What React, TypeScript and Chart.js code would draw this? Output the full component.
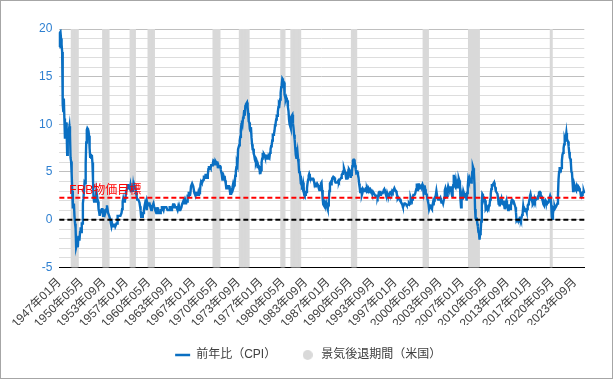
import React, { useEffect, useRef } from 'react';
import { Chart, registerables } from 'chart.js';

Chart.register(...registerables);

const FONT = "'Liberation Sans', 'Noto Sans CJK JP', sans-serif";

// ---- data ----
const startYear = 1947;
const seriesLabel = '前年比（CPI）';
const recessionLabel = '景気後退期間（米国）';
const targetLabel = 'FRB物価目標';

// US CPI year-over-year change (%), monthly from 1947-01
const cpiYoY: number[] = [
  18.1, 19.6, 19.7, 19.0, 18.4, 17.6, 12.1, 11.4, 12.7, 10.6, 8.5, 9.0, // 1947
  10.2, 9.3, 6.8, 8.7, 9.1, 9.4, 9.8, 8.9, 6.5, 6.1, 4.8, 3.0, // 1948
  1.3, 1.3, 1.7, 0.4, -0.4, -0.9, -2.9, -2.9, -2.4, -2.9, -1.7, -2.1, // 1949
  -2.1, -1.3, -0.8, -1.3, -0.4, -0.4, 1.7, 2.2, 2.2, 3.9, 3.8, 5.9, // 1950
  8.1, 9.4, 9.6, 9.5, 9.3, 8.8, 7.5, 6.6, 6.9, 6.5, 6.8, 6.0, // 1951
  4.3, 2.3, 1.9, 2.3, 1.9, 2.3, 3.0, 3.0, 2.2, 1.9, 1.1, 0.8, // 1952
  0.4, 0.8, 1.1, 0.8, 1.1, 1.1, 0.4, 0.7, 0.7, 1.1, 0.7, 0.7, // 1953
  1.1, 1.5, 1.1, 0.7, 0.7, 0.4, 0.4, 0.0, -0.4, -0.7, -0.4, -0.7, // 1954
  -0.7, -0.7, -0.7, -0.4, -0.7, -0.7, -0.4, -0.4, 0.4, 0.4, 0.4, 0.4, // 1955
  0.4, 0.4, 0.4, 0.7, 1.1, 1.9, 2.2, 1.9, 1.9, 2.2, 2.2, 2.9, // 1956
  2.9, 3.3, 3.6, 3.6, 3.6, 3.3, 3.2, 3.6, 3.2, 2.9, 3.6, 2.9, // 1957
  3.6, 3.2, 3.6, 3.6, 3.2, 2.8, 2.4, 2.1, 2.1, 2.1, 2.1, 1.8, // 1958
  1.4, 1.0, 0.3, 0.3, 0.3, 0.7, 0.7, 1.0, 1.4, 1.7, 1.4, 1.7, // 1959
  1.0, 1.7, 1.4, 1.7, 1.7, 1.7, 1.4, 1.4, 1.0, 1.4, 1.4, 1.4, // 1960
  1.7, 1.4, 1.4, 1.0, 1.0, 0.7, 1.3, 1.0, 1.3, 0.7, 0.7, 0.7, // 1961
  0.7, 1.0, 1.0, 1.3, 1.3, 1.3, 1.0, 1.3, 1.3, 1.3, 1.3, 1.3, // 1962
  1.3, 1.0, 1.0, 1.0, 1.0, 1.3, 1.3, 1.3, 1.0, 1.3, 1.3, 1.6, // 1963
  1.6, 1.6, 1.3, 1.3, 1.3, 1.3, 1.3, 1.0, 1.3, 1.0, 1.3, 1.0, // 1964
  1.0, 1.0, 1.3, 1.6, 1.6, 1.9, 1.6, 1.9, 1.6, 1.9, 1.6, 1.9, // 1965
  1.9, 2.5, 2.5, 2.8, 2.8, 2.5, 2.8, 3.5, 3.5, 3.8, 3.8, 3.5, // 1966
  3.5, 2.8, 2.8, 2.5, 2.8, 2.8, 2.8, 2.5, 2.8, 2.5, 2.8, 3.0, // 1967
  3.7, 4.0, 3.9, 3.9, 3.9, 4.2, 4.5, 4.5, 4.4, 4.7, 4.7, 4.7, // 1968
  4.4, 4.7, 5.3, 5.5, 5.5, 5.5, 5.4, 5.7, 5.7, 5.7, 5.9, 6.2, // 1969
  6.2, 6.1, 5.8, 6.1, 6.0, 6.0, 6.0, 5.4, 5.7, 5.6, 5.6, 5.6, // 1970
  5.3, 5.0, 4.7, 4.2, 4.4, 4.6, 4.4, 4.6, 4.1, 3.8, 3.3, 3.3, // 1971
  3.3, 3.5, 3.5, 3.5, 3.2, 2.7, 2.9, 2.9, 3.2, 3.4, 3.7, 3.4, // 1972
  3.6, 3.9, 4.6, 5.1, 5.5, 5.9, 5.7, 7.4, 7.4, 7.8, 8.3, 8.7, // 1973
  9.4, 10.0, 10.4, 10.1, 10.7, 10.9, 11.5, 10.9, 11.9, 12.1, 12.2, 12.3, // 1974
  11.8, 11.2, 10.3, 10.2, 9.5, 9.3, 9.7, 8.6, 7.9, 7.4, 7.4, 6.9, // 1975
  6.7, 6.3, 6.1, 6.0, 6.2, 6.0, 5.4, 5.7, 5.5, 5.5, 4.9, 4.9, // 1976
  5.2, 6.0, 6.4, 7.0, 6.7, 6.9, 6.8, 6.6, 6.6, 6.4, 6.7, 6.7, // 1977
  6.8, 6.4, 6.6, 6.5, 7.0, 7.4, 7.7, 7.8, 8.3, 8.9, 8.9, 9.0, // 1978
  9.3, 9.9, 10.1, 10.5, 10.9, 10.9, 11.3, 11.8, 12.2, 12.1, 12.6, 13.3, // 1979
  13.9, 14.2, 14.8, 14.7, 14.4, 14.4, 13.1, 12.9, 12.6, 12.8, 12.6, 12.5, // 1980
  11.8, 11.4, 10.5, 10.0, 9.8, 9.6, 10.8, 10.8, 11.0, 10.1, 9.6, 8.9, // 1981
  8.4, 7.6, 6.8, 6.5, 6.7, 7.1, 6.4, 5.9, 5.0, 5.1, 4.6, 3.8, // 1982
  3.7, 3.5, 3.6, 3.9, 3.5, 2.6, 2.5, 2.6, 2.9, 2.9, 3.3, 3.8, // 1983
  4.2, 4.6, 4.8, 4.6, 4.2, 4.2, 4.2, 4.3, 4.3, 4.3, 4.1, 3.9, // 1984
  3.5, 3.5, 3.7, 3.7, 3.8, 3.8, 3.6, 3.3, 3.1, 3.2, 3.5, 3.8, // 1985
  3.9, 3.1, 2.2, 1.6, 1.5, 1.8, 1.6, 1.6, 1.8, 1.5, 1.3, 1.1, // 1986
  1.5, 2.1, 3.0, 3.8, 3.9, 3.7, 3.9, 4.3, 4.4, 4.5, 4.5, 4.4, // 1987
  4.0, 3.9, 3.9, 3.9, 3.9, 4.0, 4.1, 4.0, 4.2, 4.2, 4.2, 4.4, // 1988
  4.7, 4.8, 5.0, 5.1, 5.4, 5.2, 5.0, 4.7, 4.3, 4.5, 4.7, 4.6, // 1989
  5.2, 5.3, 5.2, 4.7, 4.4, 4.7, 4.8, 5.6, 6.2, 6.3, 6.3, 6.1, // 1990
  5.7, 5.3, 4.9, 4.9, 5.0, 4.7, 4.4, 3.8, 3.4, 2.9, 3.0, 3.1, // 1991
  2.6, 2.8, 3.2, 3.2, 3.0, 3.1, 3.2, 3.1, 3.0, 3.2, 3.0, 2.9, // 1992
  3.3, 3.2, 3.1, 3.2, 3.2, 3.0, 2.8, 2.8, 2.7, 2.8, 2.7, 2.7, // 1993
  2.5, 2.5, 2.5, 2.4, 2.3, 2.5, 2.8, 2.9, 3.0, 2.6, 2.7, 2.7, // 1994
  2.8, 2.9, 2.9, 3.1, 3.2, 3.0, 2.8, 2.6, 2.5, 2.8, 2.6, 2.5, // 1995
  2.7, 2.7, 2.8, 2.9, 2.9, 2.8, 3.0, 2.9, 3.0, 3.0, 3.3, 3.3, // 1996
  3.0, 3.0, 2.8, 2.5, 2.2, 2.3, 2.2, 2.2, 2.2, 2.1, 1.8, 1.7, // 1997
  1.6, 1.4, 1.4, 1.4, 1.7, 1.7, 1.7, 1.6, 1.5, 1.5, 1.5, 1.6, // 1998
  1.7, 1.6, 1.7, 2.3, 2.1, 2.0, 2.1, 2.3, 2.6, 2.6, 2.6, 2.7, // 1999
  2.7, 3.2, 3.8, 3.1, 3.2, 3.7, 3.7, 3.4, 3.5, 3.4, 3.4, 3.4, // 2000
  3.7, 3.5, 2.9, 3.3, 3.6, 3.2, 2.7, 2.7, 2.6, 2.1, 1.9, 1.6, // 2001
  1.1, 1.1, 1.5, 1.6, 1.2, 1.1, 1.5, 1.8, 1.5, 2.0, 2.2, 2.4, // 2002
  2.6, 3.0, 3.0, 2.2, 2.1, 2.1, 2.1, 2.2, 2.3, 2.0, 1.8, 1.9, // 2003
  1.9, 1.7, 1.7, 2.3, 3.1, 3.3, 3.0, 2.7, 2.5, 3.2, 3.5, 3.3, // 2004
  3.0, 3.0, 3.1, 3.5, 2.8, 2.5, 3.2, 3.6, 4.7, 4.3, 3.5, 3.4, // 2005
  4.0, 3.6, 3.4, 3.5, 4.2, 4.3, 4.1, 3.8, 2.1, 1.3, 2.0, 2.5, // 2006
  2.1, 2.4, 2.8, 2.6, 2.7, 2.7, 2.4, 2.0, 2.8, 3.5, 4.3, 4.1, // 2007
  4.3, 4.0, 4.0, 3.9, 4.2, 5.0, 5.6, 5.4, 4.9, 3.7, 1.1, 0.1, // 2008
  0.0, 0.2, -0.4, -0.7, -1.3, -1.4, -2.1, -1.5, -1.3, -0.2, 1.8, 2.7, // 2009
  2.6, 2.1, 2.3, 2.2, 2.0, 1.1, 1.2, 1.1, 1.1, 1.2, 1.1, 1.5, // 2010
  1.6, 2.1, 2.7, 3.2, 3.6, 3.6, 3.6, 3.8, 3.9, 3.5, 3.4, 3.0, // 2011
  2.9, 2.9, 2.7, 2.3, 1.7, 1.7, 1.4, 1.7, 2.0, 2.2, 1.8, 1.7, // 2012
  1.6, 2.0, 1.5, 1.1, 1.4, 1.8, 2.0, 1.5, 1.2, 1.0, 1.2, 1.5, // 2013
  1.6, 1.1, 1.5, 2.0, 2.1, 2.1, 2.0, 1.7, 1.7, 1.7, 1.3, 0.8, // 2014
  -0.1, 0.0, -0.1, -0.2, 0.0, 0.1, 0.2, 0.2, 0.0, 0.2, 0.5, 0.7, // 2015
  1.4, 1.0, 0.9, 1.1, 1.0, 1.0, 0.8, 1.1, 1.5, 1.6, 1.7, 2.1, // 2016
  2.5, 2.7, 2.4, 2.2, 1.9, 1.6, 1.7, 1.9, 2.2, 2.0, 2.2, 2.1, // 2017
  2.1, 2.2, 2.4, 2.5, 2.8, 2.9, 2.9, 2.7, 2.3, 2.5, 2.2, 1.9, // 2018
  1.6, 1.5, 1.9, 2.0, 1.8, 1.6, 1.8, 1.7, 1.7, 1.8, 2.1, 2.3, // 2019
  2.5, 2.3, 1.5, 0.3, 0.1, 0.6, 1.0, 1.3, 1.4, 1.2, 1.2, 1.4, // 2020
  1.4, 1.7, 2.6, 4.2, 5.0, 5.4, 5.4, 5.3, 5.4, 6.2, 6.8, 7.0, // 2021
  7.5, 7.9, 8.5, 8.3, 8.6, 9.1, 8.5, 8.3, 8.2, 7.7, 7.1, 6.5, // 2022
  6.4, 6.0, 5.0, 4.9, 4.0, 3.0, 3.2, 3.7, 3.7, 3.2, 3.1, 3.4, // 2023
  3.1, 3.2, 3.5, 3.4, 3.3, 3.0, 2.9, 2.5, 2.4, 2.6, 2.7, 2.9, // 2024
  3.0, 2.8, // 2025
];

// NBER recession periods (peak month .. trough month)
const recessionStarts = ['1948-11', '1953-07', '1957-08', '1960-04', '1969-12', '1973-11', '1980-01', '1981-07', '1990-07', '2001-03', '2007-12', '2020-02'];
const recessionEnds = ['1949-10', '1954-05', '1958-04', '1961-02', '1970-11', '1975-03', '1980-07', '1982-11', '1991-03', '2001-11', '2009-06', '2020-04'];

const yMin = -5;
const yMax = 20;
const yLabelStep = 5;
const xLabelEvery = 40;
const targetRate = 2.3;
const zeroRate = 0;

// ---- derived ----
const monthKeys = cpiYoY.map((_, i) => {
  const y = startYear + Math.floor(i / 12);
  const m = String((i % 12) + 1).padStart(2, '0');
  return `${y}-${m}`;
});
const monthLabels = monthKeys.map((k) => `${k.slice(0, 4)}年${k.slice(5, 7)}月`);
const recessionBars = monthKeys.map((k) =>
  recessionStarts.some((s, j) => k >= s && k <= recessionEnds[j]) ? [yMin, yMax] : null
);

const BLUE = '#0a6fc2';
const GRAY_BAR = '#d9d9d9';

const refLinesPlugin = {
  id: 'refLines',
  afterDatasetsDraw(chart: any) {
    const { ctx, chartArea: a, scales } = chart;
    const y = scales.y;
    ctx.save();
    ctx.lineWidth = 2;
    ctx.setLineDash([5, 3]);
    const y0 = y.getPixelForValue(zeroRate);
    ctx.strokeStyle = '#000000';
    ctx.beginPath();
    ctx.moveTo(a.left, y0);
    ctx.lineTo(a.right, y0);
    ctx.stroke();
    const yt = y.getPixelForValue(targetRate);
    ctx.strokeStyle = '#ff0000';
    ctx.beginPath();
    ctx.moveTo(a.left, yt);
    ctx.lineTo(a.right, yt);
    ctx.stroke();
    ctx.setLineDash([]);
    ctx.fillStyle = '#ff0000';
    ctx.font = `12px ${FONT}`;
    ctx.textBaseline = 'alphabetic';
    ctx.textAlign = 'left';
    ctx.fillText(targetLabel, a.left + 10, yt - 4);
    ctx.restore();
  },
};

export default function App() {
  const ref = useRef<HTMLCanvasElement | null>(null);

  useEffect(() => {
    document.body.style.margin = '0';
    const canvas = ref.current;
    if (!canvas) return;

    const dot = document.createElement('canvas');
    dot.width = 10;
    dot.height = 10;
    const dctx = dot.getContext('2d');
    if (dctx) {
      dctx.fillStyle = GRAY_BAR;
      dctx.beginPath();
      dctx.arc(5, 5, 5, 0, Math.PI * 2);
      dctx.fill();
    }

    const chart = new Chart(canvas, {
      type: 'line',
      data: {
        labels: monthLabels,
        datasets: [
          {
            type: 'line',
            label: seriesLabel,
            data: cpiYoY,
            borderColor: BLUE,
            backgroundColor: BLUE,
            borderWidth: 2.4,
            pointRadius: 0,
            tension: 0,
            order: 1,
          } as any,
          {
            type: 'bar',
            label: recessionLabel,
            data: recessionBars as any,
            backgroundColor: GRAY_BAR,
            borderWidth: 0,
            barThickness: 1.2,
            grouped: false,
            order: 2,
          } as any,
        ],
      },
      options: {
        animation: false,
        responsive: true,
        maintainAspectRatio: false,
        events: [],
        layout: { padding: { top: 28, right: 27.7, bottom: 7, left: 31 } },
        scales: {
          x: {
            type: 'category',
            offset: false,
            grid: { display: false, offset: false },
            border: { display: true, color: '#000000', width: 1 },
            ticks: {
              autoSkip: false,
              maxRotation: 45,
              minRotation: 45,
              padding: 0,
              color: '#404040',
              font: { size: 12, family: FONT },
              callback: (_v: any, i: number) => (i % xLabelEvery === 0 ? monthLabels[i] : ''),
            },
            afterFit: (s: any) => {
              s.height = 57.7;
              s.paddingLeft = 0;
              s.paddingRight = 0;
            },
          },
          y: {
            min: yMin,
            max: yMax,
            border: { display: false },
            grid: {
              drawTicks: false,
              color: (c: any) => (c.tick && c.tick.value % yLabelStep === 0 ? '#bfbfbf' : '#dddddd'),
            },
            ticks: {
              autoSkip: false,
              stepSize: 1,
              padding: 7,
              color: '#2f80d1',
              font: { size: 12, family: FONT },
              callback: (v: any) => (Number(v) % yLabelStep === 0 ? String(v) : ''),
            },
          },
        },
        plugins: {
          tooltip: { enabled: false },
          legend: {
            position: 'bottom',
            labels: {
              usePointStyle: true,
              pointStyleWidth: 15,
              padding: 24,
              color: '#404040',
              font: { size: 12, family: FONT },
              generateLabels: () => [
                {
                  text: seriesLabel,
                  fillStyle: BLUE,
                  strokeStyle: BLUE,
                  lineWidth: 2.5,
                  pointStyle: 'line',
                  hidden: false,
                  datasetIndex: 0,
                  fontColor: '#404040',
                } as any,
                {
                  text: recessionLabel,
                  fillStyle: GRAY_BAR,
                  strokeStyle: GRAY_BAR,
                  lineWidth: 0,
                  pointStyle: dot,
                  hidden: false,
                  datasetIndex: 1,
                  fontColor: '#404040',
                } as any,
              ],
            },
          },
        },
      },
      plugins: [refLinesPlugin],
    });

    return () => chart.destroy();
  }, []);

  return (
    <div
      style={{
        width: 613,
        height: 379,
        border: '1px solid #a6a6a6',
        boxSizing: 'border-box',
        background: '#ffffff',
        position: 'relative',
      }}
    >
      <canvas ref={ref} />
    </div>
  );
}
